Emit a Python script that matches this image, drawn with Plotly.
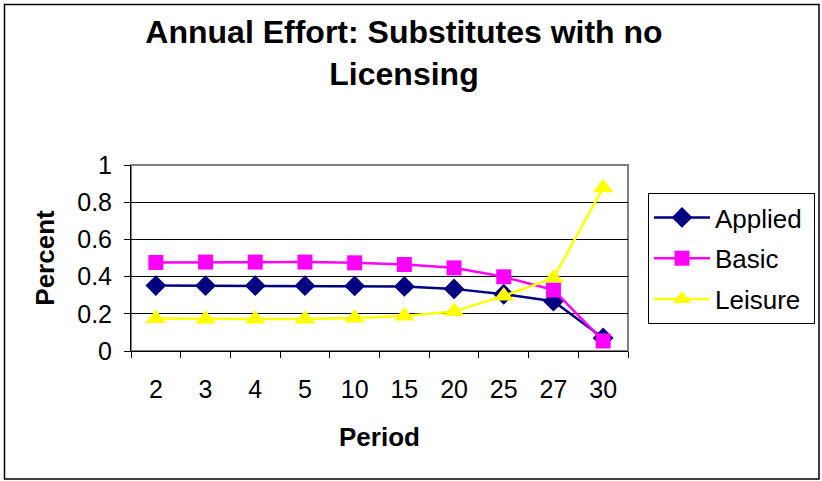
import plotly.graph_objects as go

periods = ["2", "3", "4", "5", "10", "15", "20", "25", "27", "30"]
applied = [0.352, 0.351, 0.351, 0.351, 0.350, 0.347, 0.334, 0.305, 0.268, 0.070]
basic = [0.476, 0.478, 0.478, 0.478, 0.474, 0.465, 0.447, 0.399, 0.328, 0.054]
leisure = [0.175, 0.172, 0.172, 0.172, 0.177, 0.188, 0.212, 0.296, 0.392, 0.878]
names = ["Applied", "Basic", "Leisure"]

FONT = "Liberation Sans, Arial, sans-serif"


def leg(name):
    return name + "&nbsp;"


fig = go.Figure()
fig.add_trace(go.Scatter(x=periods, y=applied, name=leg(names[0]), legendgroup="a",
                         mode="lines+markers",
                         line=dict(color="#000080", width=2.5),
                         marker=dict(symbol="diamond", size=16, color="#000080")))
fig.add_trace(go.Scatter(x=periods, y=basic, name=leg(names[1]), legendgroup="b",
                         mode="lines+markers",
                         line=dict(color="#FF00FF", width=2.5),
                         marker=dict(symbol="square", size=15, color="#FF00FF")))
fig.add_trace(go.Scatter(x=periods, y=leisure, name=leg(names[2]), legendgroup="c",
                         mode="lines+markers",
                         line=dict(color="#FFFF00", width=2.5),
                         marker=dict(symbol="triangle-up", size=18, color="#FFFF00")))

fig.update_layout(
    width=822, height=481,
    margin=dict(l=131, r=194, t=165, b=130, autoexpand=False),
    paper_bgcolor="white", plot_bgcolor="white",
    font=dict(family=FONT, color="black", size=25),
    title=dict(text="<b>Annual Effort: Substitutes with no<br>Licensing</b>",
               x=404 / 822, xanchor="center", y=1 - 43 / 481, yanchor="middle",
               font=dict(size=32, family=FONT, color="black")),
    xaxis=dict(type="category", range=[-0.5, 9.5], tickson="boundaries",
               showgrid=False, ticks="outside", ticklen=6, tickcolor="black",
               showline=True, linecolor="black", linewidth=1,
               tickfont=dict(size=25), ticklabelstandoff=16,
               title=dict(text="<b>Period</b>", font=dict(size=26), standoff=25)),
    yaxis=dict(range=[0, 1], dtick=0.2, tickformat="~g",
               showgrid=True, gridcolor="black", gridwidth=1,
               zeroline=False,
               ticks="outside", ticklen=6, tickcolor="black",
               showline=True, linecolor="black", linewidth=1,
               tickfont=dict(size=25), ticklabelstandoff=7,
               title=dict(text="<b>Percent</b>", font=dict(size=26), standoff=15)),
    legend=dict(x=(648 - 131) / 497, y=(351 - 193) / 186, xanchor="left", yanchor="top",
                bordercolor="black", borderwidth=1, bgcolor="white",
                font=dict(size=26, family=FONT), tracegroupgap=4, itemwidth=56),
    showlegend=True,
    shapes=[
        dict(type="rect", xref="x domain", yref="y domain", x0=0, x1=1, y0=0, y1=1,
             line=dict(color="#808080", width=2), layer="below"),
        dict(type="rect", xref="paper", yref="paper",
             x0=(4.5 - 131) / 497, x1=(819 - 131) / 497,
             y0=(351 - 479) / 186, y1=(351 - 4.5) / 186,
             line=dict(color="black", width=1.5), layer="below"),
    ],
)

fig.write_html("out.html")
